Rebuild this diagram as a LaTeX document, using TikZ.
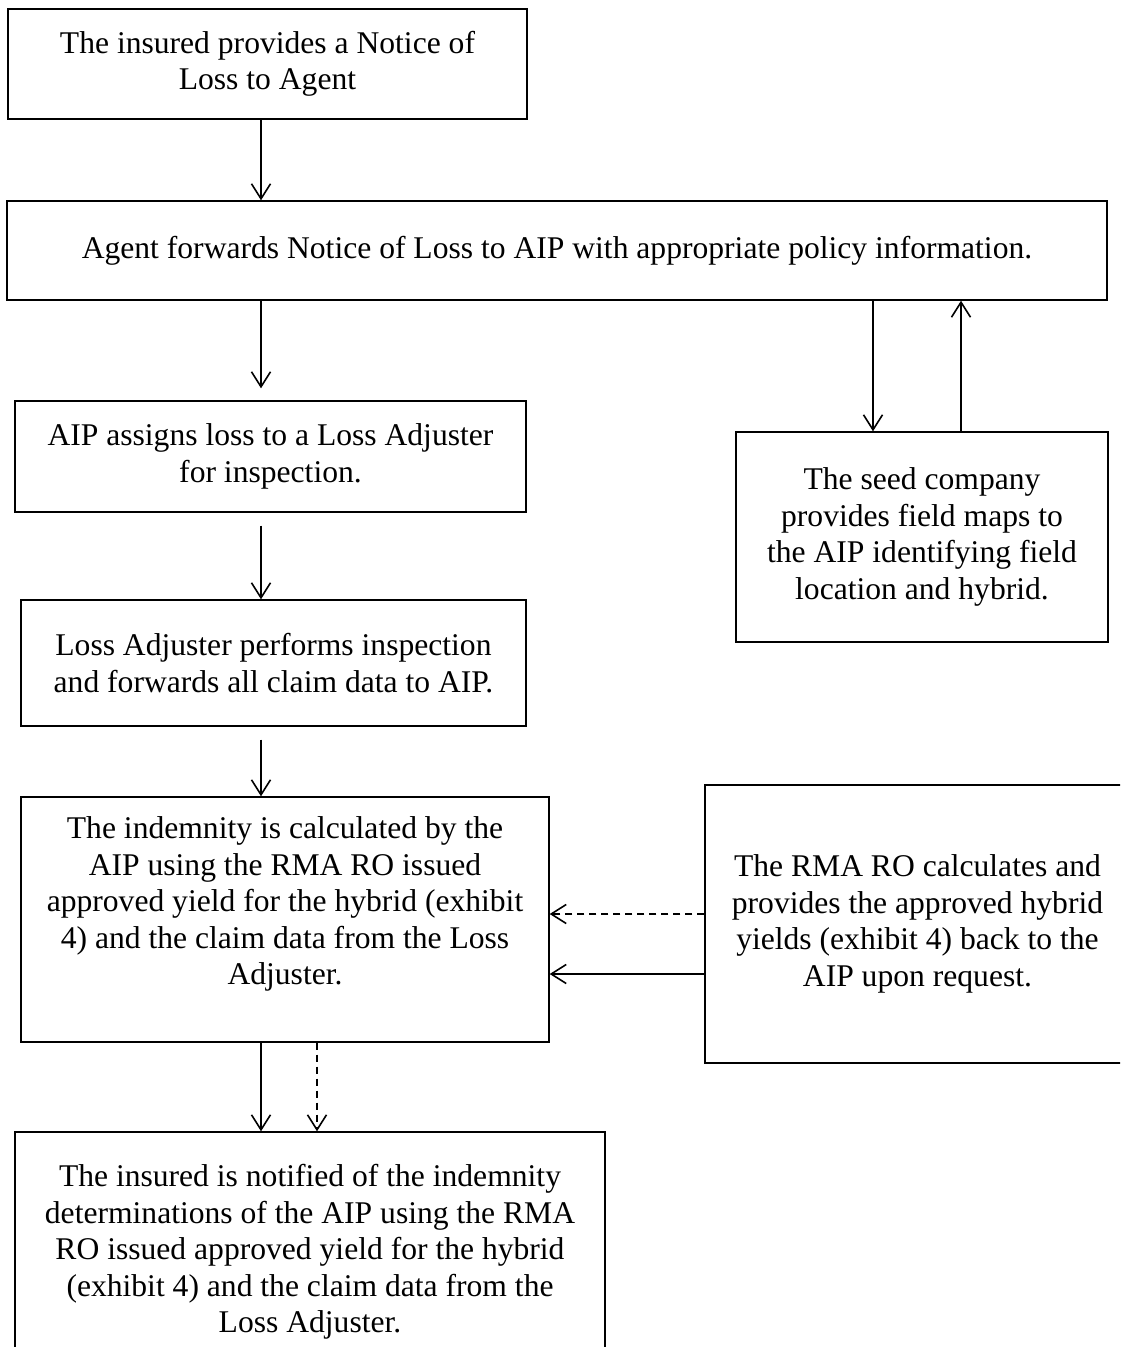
\documentclass[tikz,border=0pt]{standalone}
\usepackage{fontspec}
\setmainfont{Liberation Serif}
\usetikzlibrary{arrows.meta}

\begin{document}
\begin{tikzpicture}[x=1pt,y=-1pt,>={Straight Barb[length=15pt,width=19pt]},
		box/.style={draw,rectangle,line width=1.4pt,align=center,inner sep=0pt,
				font=\fontsize{31.6}{36.5}\selectfont},
		link/.style={->,line width=1.6pt},
		dlink/.style={link,dash pattern=on 7pt off 5pt}
	]

	\useasboundingbox (0,0) rectangle (1120,1347);
	\clip (0,0) rectangle (1120,1347);

	\node[box,minimum width=519pt,minimum height=110pt] (notice) at (267.5,64) {The insured provides a Notice of\\Loss to Agent};
	\node[box,minimum width=1100pt,minimum height=99pt] (forward) at (557,250.5) {Agent forwards Notice of Loss to AIP with appropriate policy information.};
	\node[box,minimum width=511pt,minimum height=111pt] (assign) at (270.5,456.5) {AIP assigns loss to a Loss Adjuster\\for inspection.};
	\node[box,minimum width=372pt,minimum height=210pt] (seed) at (922,537) {The seed company\\provides field maps to\\the AIP identifying field\\location and hybrid.};
	\node[box,minimum width=505pt,minimum height=126pt] (inspect) at (273.5,663) {Loss Adjuster performs inspection\\and forwards all claim data to AIP.};
	\node[box,minimum width=528pt,minimum height=245pt,text depth=37pt] (calc) at (285,919.5) {The indemnity is calculated by the\\AIP using the RMA RO issued\\approved yield for the hybrid (exhibit\\4) and the claim data from the Loss\\Adjuster.};
	\node[box,minimum width=425pt,minimum height=278pt] (rma) at (917.5,924) {The RMA RO calculates and\\provides the approved hybrid\\yields (exhibit 4) back to the\\AIP upon request.};
	\node[box,minimum width=590pt,minimum height=240pt] (notify) at (310,1252) {The insured is notified of the indemnity\\determinations of the AIP using the RMA\\RO issued approved yield for the hybrid\\(exhibit 4) and the claim data from the\\Loss Adjuster.};

	\coordinate (xl) at (261,0);
	\coordinate (xr) at (317,0);
	\coordinate (xd) at (873,0);
	\coordinate (xu) at (961,0);
	\coordinate (yd) at (0,914);
	\coordinate (ys) at (0,974);

	\foreach \a/\b/\s/\e in {notice/forward/0/0,forward/assign/0/12,assign/inspect/13/0,inspect/calc/13/0,calc/notify/0/0} {
			\draw[link,shorten <=\s pt,shorten >=\e pt] (\a.south -| xl) -- (\b.north -| xl);
		}
	\draw[dlink] (calc.south -| xr) -- (notify.north -| xr);

	\draw[link] (forward.south -| xd) -- (seed.north -| xd);
	\draw[link] (seed.north -| xu) -- (forward.south -| xu);

	\draw[dlink] (rma.west |- yd) -- (calc.east |- yd);
	\draw[link] (rma.west |- ys) -- (calc.east |- ys);

\end{tikzpicture}
\end{document}
